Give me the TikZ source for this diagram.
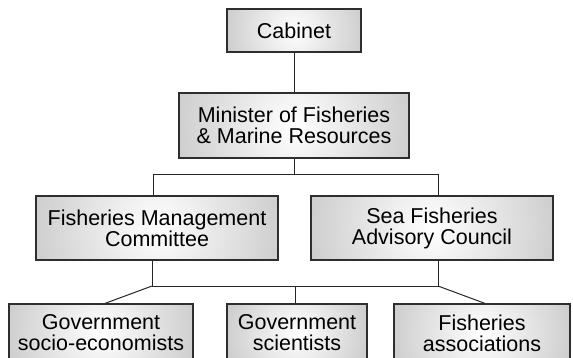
\documentclass[tikz,border=0pt]{standalone}
\usepackage{fontspec}
\setmainfont{Liberation Sans}
\usetikzlibrary{calc}
\begin{document}
\begin{tikzpicture}[x=1pt,y=-1pt,
  box/.style={draw=black!82, line width=1.2pt, inner sep=0pt, align=center,
    font=\fontsize{21.5}{21}\selectfont, text=black,
    path picture={\shade[inner color=white, outer color=black!45]
      let \p1=(path picture bounding box.east), \p2=(path picture bounding box.center)
      in (\p2) circle ({2.4*(\x1-\x2)});}},
  conn/.style={draw=black!85, line width=1pt}]
\useasboundingbox (0,0) rectangle (573,357);
\clip (0,0) rectangle (573,357);
\node[box, minimum width=134pt, minimum height=43pt] (cab) at (294,30.5) {Cabinet};
\node[box, minimum width=230pt, minimum height=65pt] (min) at (294,125.5) {Minister of Fisheries\\\& Marine Resources};
\node[box, minimum width=242pt, minimum height=64pt] (fmc) at (157,228) {Fisheries Management\\Committee};
\node[box, minimum width=242pt, minimum height=64pt] (sfac) at (432,228) {Sea Fisheries\\Advisory Council};
\node[box, minimum width=184pt, minimum height=58pt] (gse) at (101,333) {Government\\socio-economists};
\node[box, minimum width=140pt, minimum height=58pt] (gsc) at (297,333) {Government\\scientists};
\node[box, minimum width=176pt, minimum height=58pt] (fas) at (482,333) {Fisheries\\associations};
\coordinate (j1) at (294,174);
\coordinate (jl) at (153,174);
\coordinate (jr) at (438,174);
\coordinate (k1) at (295,286);
\coordinate (kl) at (152,286);
\coordinate (kr) at (438,286);
\draw[conn] (cab) -- (min);
\draw[conn] (min) -- (j1);
\draw[conn] (fmc.north -| jl) -- (jl) -- (jr) -- (sfac.north -| jr);
\draw[conn] (fmc.south -| kl) -- (kl) -- (kr) -- (sfac.south -| kr);
\draw[conn] (kl) -- (gse.north -| 105,0);
\draw[conn] (k1) -- (gsc.north -| k1);
\draw[conn] (kr) -- (fas.north -| 485,0);
\end{tikzpicture}
\end{document}
